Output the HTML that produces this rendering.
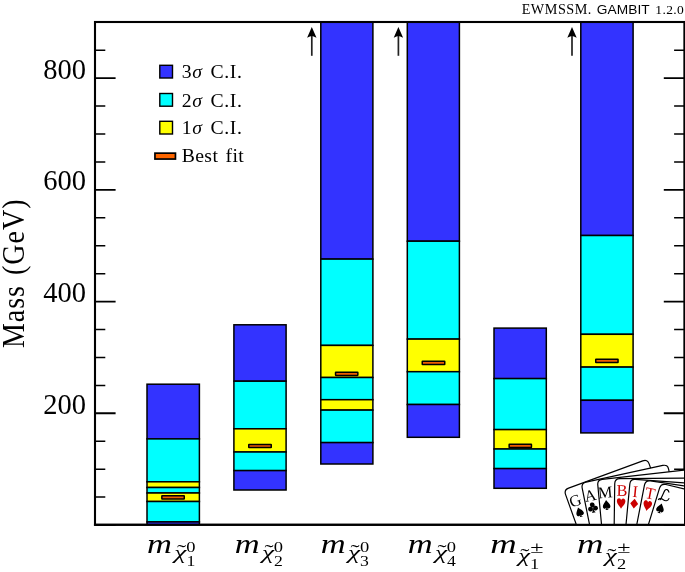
<!DOCTYPE html>
<html><head><meta charset="utf-8"><title>EWMSSM mass plot</title>
<style>
html,body{margin:0;padding:0;background:#fff;}
body{width:685px;height:572px;overflow:hidden;}
svg{display:block;will-change:transform;}
text{font-family:"Liberation Serif",serif;fill:#000;}
.sans{font-family:"Liberation Sans",sans-serif;}
.it{font-style:italic;}
</style></head><body>
<svg width="685" height="572" viewBox="0 0 685 572">
<rect x="0" y="0" width="685" height="572" fill="#fff"/>
<defs><clipPath id="plot"><rect x="95.00" y="22.00" width="589.40" height="502.80"/></clipPath></defs>
<g clip-path="url(#plot)">
<rect x="147.00" y="384.20" width="52.40" height="54.70" fill="#3333ff" stroke="#000" stroke-width="1.50"/>
<rect x="147.00" y="438.90" width="52.40" height="42.90" fill="#00ffff" stroke="#000" stroke-width="1.50"/>
<rect x="147.00" y="481.80" width="52.40" height="5.70" fill="#ffff00" stroke="#000" stroke-width="1.50"/>
<rect x="147.00" y="487.50" width="52.40" height="5.50" fill="#00ffff" stroke="#000" stroke-width="1.50"/>
<rect x="147.00" y="493.00" width="52.40" height="8.50" fill="#ffff00" stroke="#000" stroke-width="1.50"/>
<rect x="147.00" y="501.50" width="52.40" height="20.40" fill="#00ffff" stroke="#000" stroke-width="1.50"/>
<rect x="147.00" y="521.90" width="52.40" height="4.10" fill="#3333ff" stroke="#000" stroke-width="1.50"/>
<rect x="161.85" y="495.80" width="22.40" height="3.20" rx="0.3" fill="#ee5e00" stroke="#000" stroke-width="1.5"/>
<rect x="233.90" y="324.80" width="52.20" height="56.40" fill="#3333ff" stroke="#000" stroke-width="1.50"/>
<rect x="233.90" y="381.20" width="52.20" height="47.60" fill="#00ffff" stroke="#000" stroke-width="1.50"/>
<rect x="233.90" y="428.80" width="52.20" height="23.20" fill="#ffff00" stroke="#000" stroke-width="1.50"/>
<rect x="233.90" y="452.00" width="52.20" height="18.60" fill="#00ffff" stroke="#000" stroke-width="1.50"/>
<rect x="233.90" y="470.60" width="52.20" height="19.40" fill="#3333ff" stroke="#000" stroke-width="1.50"/>
<rect x="248.75" y="444.40" width="22.50" height="3.20" rx="0.3" fill="#ee5e00" stroke="#000" stroke-width="1.5"/>
<rect x="320.80" y="10.00" width="52.10" height="249.10" fill="#3333ff" stroke="#000" stroke-width="1.50"/>
<rect x="320.80" y="259.10" width="52.10" height="86.30" fill="#00ffff" stroke="#000" stroke-width="1.50"/>
<rect x="320.80" y="345.40" width="52.10" height="32.10" fill="#ffff00" stroke="#000" stroke-width="1.50"/>
<rect x="320.80" y="377.50" width="52.10" height="22.20" fill="#00ffff" stroke="#000" stroke-width="1.50"/>
<rect x="320.80" y="399.70" width="52.10" height="10.40" fill="#ffff00" stroke="#000" stroke-width="1.50"/>
<rect x="320.80" y="410.10" width="52.10" height="32.50" fill="#00ffff" stroke="#000" stroke-width="1.50"/>
<rect x="320.80" y="442.60" width="52.10" height="21.40" fill="#3333ff" stroke="#000" stroke-width="1.50"/>
<rect x="335.55" y="372.20" width="22.30" height="3.20" rx="0.3" fill="#ee5e00" stroke="#000" stroke-width="1.5"/>
<rect x="407.30" y="10.00" width="52.10" height="231.20" fill="#3333ff" stroke="#000" stroke-width="1.50"/>
<rect x="407.30" y="241.20" width="52.10" height="97.90" fill="#00ffff" stroke="#000" stroke-width="1.50"/>
<rect x="407.30" y="339.10" width="52.10" height="32.60" fill="#ffff00" stroke="#000" stroke-width="1.50"/>
<rect x="407.30" y="371.70" width="52.10" height="32.80" fill="#00ffff" stroke="#000" stroke-width="1.50"/>
<rect x="407.30" y="404.50" width="52.10" height="32.80" fill="#3333ff" stroke="#000" stroke-width="1.50"/>
<rect x="422.25" y="361.30" width="22.50" height="3.20" rx="0.3" fill="#ee5e00" stroke="#000" stroke-width="1.5"/>
<rect x="494.00" y="328.10" width="52.30" height="50.50" fill="#3333ff" stroke="#000" stroke-width="1.50"/>
<rect x="494.00" y="378.60" width="52.30" height="51.00" fill="#00ffff" stroke="#000" stroke-width="1.50"/>
<rect x="494.00" y="429.60" width="52.30" height="19.40" fill="#ffff00" stroke="#000" stroke-width="1.50"/>
<rect x="494.00" y="449.00" width="52.30" height="19.60" fill="#00ffff" stroke="#000" stroke-width="1.50"/>
<rect x="494.00" y="468.60" width="52.30" height="19.70" fill="#3333ff" stroke="#000" stroke-width="1.50"/>
<rect x="509.15" y="444.30" width="22.30" height="3.20" rx="0.3" fill="#ee5e00" stroke="#000" stroke-width="1.5"/>
<rect x="580.80" y="10.00" width="52.30" height="225.50" fill="#3333ff" stroke="#000" stroke-width="1.50"/>
<rect x="580.80" y="235.50" width="52.30" height="98.80" fill="#00ffff" stroke="#000" stroke-width="1.50"/>
<rect x="580.80" y="334.30" width="52.30" height="32.80" fill="#ffff00" stroke="#000" stroke-width="1.50"/>
<rect x="580.80" y="367.10" width="52.30" height="33.20" fill="#00ffff" stroke="#000" stroke-width="1.50"/>
<rect x="580.80" y="400.30" width="52.30" height="32.60" fill="#3333ff" stroke="#000" stroke-width="1.50"/>
<rect x="595.75" y="359.30" width="22.30" height="3.20" rx="0.3" fill="#ee5e00" stroke="#000" stroke-width="1.5"/>
</g>
<path d="M311.80 55.80 L311.80 34.00" stroke="#222" stroke-width="1.7" fill="none"/>
<path d="M311.80 27.00 L316.50 37.80 Q313.30 36.00 311.80 36.00 Q310.30 36.00 307.10 37.80 Z" fill="#000"/>
<path d="M398.40 55.80 L398.40 34.00" stroke="#222" stroke-width="1.7" fill="none"/>
<path d="M398.40 27.00 L403.10 37.80 Q399.90 36.00 398.40 36.00 Q396.90 36.00 393.70 37.80 Z" fill="#000"/>
<path d="M572.00 55.80 L572.00 34.00" stroke="#222" stroke-width="1.7" fill="none"/>
<path d="M572.00 27.00 L576.70 37.80 Q573.50 36.00 572.00 36.00 Q570.50 36.00 567.30 37.80 Z" fill="#000"/>
<path d="M95.00 525.05 h20.60 M684.40 525.05 h-20.60" stroke="#000" stroke-width="1.90" fill="none"/>
<path d="M95.00 497.12 h10.30 M684.40 497.12 h-10.30" stroke="#000" stroke-width="1.50" fill="none"/>
<path d="M95.00 469.18 h10.30 M684.40 469.18 h-10.30" stroke="#000" stroke-width="1.50" fill="none"/>
<path d="M95.00 441.25 h10.30 M684.40 441.25 h-10.30" stroke="#000" stroke-width="1.50" fill="none"/>
<path d="M95.00 413.32 h20.60 M684.40 413.32 h-20.60" stroke="#000" stroke-width="1.90" fill="none"/>
<path d="M95.00 385.38 h10.30 M684.40 385.38 h-10.30" stroke="#000" stroke-width="1.50" fill="none"/>
<path d="M95.00 357.45 h10.30 M684.40 357.45 h-10.30" stroke="#000" stroke-width="1.50" fill="none"/>
<path d="M95.00 329.52 h10.30 M684.40 329.52 h-10.30" stroke="#000" stroke-width="1.50" fill="none"/>
<path d="M95.00 301.58 h20.60 M684.40 301.58 h-20.60" stroke="#000" stroke-width="1.90" fill="none"/>
<path d="M95.00 273.65 h10.30 M684.40 273.65 h-10.30" stroke="#000" stroke-width="1.50" fill="none"/>
<path d="M95.00 245.72 h10.30 M684.40 245.72 h-10.30" stroke="#000" stroke-width="1.50" fill="none"/>
<path d="M95.00 217.78 h10.30 M684.40 217.78 h-10.30" stroke="#000" stroke-width="1.50" fill="none"/>
<path d="M95.00 189.85 h20.60 M684.40 189.85 h-20.60" stroke="#000" stroke-width="1.90" fill="none"/>
<path d="M95.00 161.92 h10.30 M684.40 161.92 h-10.30" stroke="#000" stroke-width="1.50" fill="none"/>
<path d="M95.00 133.98 h10.30 M684.40 133.98 h-10.30" stroke="#000" stroke-width="1.50" fill="none"/>
<path d="M95.00 106.05 h10.30 M684.40 106.05 h-10.30" stroke="#000" stroke-width="1.50" fill="none"/>
<path d="M95.00 78.12 h20.60 M684.40 78.12 h-20.60" stroke="#000" stroke-width="1.90" fill="none"/>
<path d="M95.00 50.18 h10.30 M684.40 50.18 h-10.30" stroke="#000" stroke-width="1.50" fill="none"/>
<path d="M95.00 22.25 h10.30 M684.40 22.25 h-10.30" stroke="#000" stroke-width="1.50" fill="none"/>
<rect x="95.00" y="22.00" width="589.40" height="502.80" fill="none" stroke="#000" stroke-width="2.10"/>
<defs><clipPath id="logoclip"><rect x="95.00" y="22.00" width="589.00" height="502.80"/></clipPath></defs>
<g clip-path="url(#logoclip)">
<path d="M565.59 494.61 Q563.90 489.90 568.59 488.18 L642.75 460.93 Q647.44 459.21 649.13 463.91 L672.72 529.82 L589.18 560.51 Z" fill="#fff" stroke="#000" stroke-width="1.2" stroke-linejoin="round"/>
<text transform="translate(575.20 500.60) rotate(-19.70)" x="0" y="5.38" font-size="16.3" text-anchor="middle" style="fill:#000">G</text>
<g transform="translate(579.60 512.00) rotate(-19.70) scale(0.97)"><path d="M0,-5 C0.8,-3.2 3.9,-0.8 3.9,1.6 C3.9,3.2 2.8,3.9 2.0,3.9 C1.3,3.9 0.7,3.5 0.4,2.8 C0.5,3.9 1,4.7 1.8,5.2 L-1.8,5.2 C-1,4.7 -0.5,3.9 -0.4,2.8 C-0.7,3.5 -1.3,3.9 -2.0,3.9 C-2.8,3.9 -3.9,3.2 -3.9,1.6 C-3.9,-0.8 -0.8,-3.2 0,-5 Z" fill="#000"/></g>
<path d="M582.19 488.10 Q581.20 483.20 586.09 482.14 L662.79 465.43 Q667.67 464.36 668.66 469.26 L682.50 537.88 L596.02 556.72 Z" fill="#fff" stroke="#000" stroke-width="1.2" stroke-linejoin="round"/>
<text transform="translate(590.20 495.60) rotate(-11.40)" x="0" y="5.38" font-size="16.3" text-anchor="middle" style="fill:#000">A</text>
<g transform="translate(592.80 507.40) rotate(-11.40) scale(1.04)"><g fill="#000"><circle cx="0" cy="-2.5" r="2.3"/><circle cx="-2.5" cy="1.2" r="2.3"/><circle cx="2.5" cy="1.2" r="2.3"/><path d="M-0.5,0 L0.5,0 C0.5,3 1,4.4 1.9,5.2 L-1.9,5.2 C-1,4.4 -0.5,3 -0.5,0 Z"/></g></g>
<path d="M597.77 484.88 Q597.30 479.90 602.27 479.34 L711.59 467.13 Q716.56 466.57 717.03 471.55 L723.62 541.24 L604.36 554.57 Z" fill="#fff" stroke="#000" stroke-width="1.2" stroke-linejoin="round"/>
<text transform="translate(605.20 492.40) rotate(-5.40)" x="0" y="5.38" font-size="16.3" text-anchor="middle" style="fill:#000">M</text>
<g transform="translate(606.50 504.80) rotate(-5.40) scale(0.97)"><path d="M0,-5 C0.8,-3.2 3.9,-0.8 3.9,1.6 C3.9,3.2 2.8,3.9 2.0,3.9 C1.3,3.9 0.7,3.5 0.4,2.8 C0.5,3.9 1,4.7 1.8,5.2 L-1.8,5.2 C-1,4.7 -0.5,3.9 -0.4,2.8 C-0.7,3.5 -1.3,3.9 -2.0,3.9 C-2.8,3.9 -3.9,3.2 -3.9,1.6 C-3.9,-0.8 -0.8,-3.2 0,-5 Z" fill="#000"/></g>
<path d="M614.73 483.70 Q614.80 478.70 619.80 478.66 L729.80 477.69 Q734.80 477.65 734.73 482.65 L733.80 552.64 L613.81 553.69 Z" fill="#fff" stroke="#000" stroke-width="1.2" stroke-linejoin="round"/>
<text transform="translate(622.00 490.40) rotate(0.76)" x="0" y="5.38" font-size="16.3" text-anchor="middle" style="fill:#cc0000">B</text>
<g transform="translate(621.10 503.30) rotate(0.76) scale(0.97)"><path d="M0,5.6 C-0.8,3.5 -4.4,0.8 -4.4,-2.3 C-4.4,-4.3 -3.1,-5.1 -2.1,-5.1 C-1.1,-5.1 -0.2,-4.3 0,-3.2 C0.2,-4.3 1.1,-5.1 2.1,-5.1 C3.1,-5.1 4.4,-4.3 4.4,-2.3 C4.4,0.8 0.8,3.5 0,5.6 Z" fill="#cc0000"/></g>
<path d="M629.83 483.98 Q630.30 479.00 635.29 479.36 L745.00 487.32 Q749.99 487.68 749.52 492.66 L742.93 562.35 L623.24 553.67 Z" fill="#fff" stroke="#000" stroke-width="1.2" stroke-linejoin="round"/>
<text transform="translate(635.20 491.70) rotate(5.40)" x="0" y="5.38" font-size="16.3" text-anchor="middle" style="fill:#cc0000">I</text>
<g transform="translate(634.20 503.70) rotate(5.40) scale(0.97)"><path d="M0,-5 L4.1,0 L0,5 L-4.1,0 Z" fill="#cc0000"/></g>
<path d="M644.45 485.11 Q645.40 480.20 650.35 480.93 L759.17 496.98 Q764.12 497.71 763.16 502.61 L749.81 571.33 L631.09 553.82 Z" fill="#fff" stroke="#000" stroke-width="1.2" stroke-linejoin="round"/>
<text transform="translate(650.10 493.40) rotate(11.00)" x="0" y="5.38" font-size="16.3" text-anchor="middle" style="fill:#cc0000">T</text>
<g transform="translate(647.40 505.60) rotate(11.00) scale(0.97)"><path d="M0,5.6 C-0.8,3.5 -4.4,0.8 -4.4,-2.3 C-4.4,-4.3 -3.1,-5.1 -2.1,-5.1 C-1.1,-5.1 -0.2,-4.3 0,-3.2 C0.2,-4.3 1.1,-5.1 2.1,-5.1 C3.1,-5.1 4.4,-4.3 4.4,-2.3 C4.4,0.8 0.8,3.5 0,5.6 Z" fill="#cc0000"/></g>
<path d="M659.54 488.18 Q661.00 483.40 665.87 484.54 L772.95 509.71 Q777.82 510.85 776.36 515.64 L755.89 582.58 L639.07 555.12 Z" fill="#fff" stroke="#000" stroke-width="1.2" stroke-linejoin="round"/>
<path d="M668.91 492.09 C668.36 489.36 666.00 488.64 664.73 490.64 C663.45 492.82 662.27 496.45 660.18 499.73" fill="none" stroke="#000" stroke-width="1.15" stroke-linecap="round"/>
<path d="M658.45 499.55 C659.27 498.09 661.45 498.45 663.27 499.73 C665.09 501.18 667.82 501.36 668.91 498.64" fill="none" stroke="#000" stroke-width="1.15" stroke-linecap="round"/>
<g transform="translate(660.40 508.20) rotate(17.00) scale(0.97)"><path d="M0,-5 C0.8,-3.2 3.9,-0.8 3.9,1.6 C3.9,3.2 2.8,3.9 2.0,3.9 C1.3,3.9 0.7,3.5 0.4,2.8 C0.5,3.9 1,4.7 1.8,5.2 L-1.8,5.2 C-1,4.7 -0.5,3.9 -0.4,2.8 C-0.7,3.5 -1.3,3.9 -2.0,3.9 C-2.8,3.9 -3.9,3.2 -3.9,1.6 C-3.9,-0.8 -0.8,-3.2 0,-5 Z" fill="#000"/></g>
</g>
<path d="M93.95 524.80 H685.45" stroke="#000" stroke-width="2.10" fill="none"/>
<text x="86" y="413.87" font-size="28.5" text-anchor="end">200</text>
<text x="86" y="302.13" font-size="28.5" text-anchor="end">400</text>
<text x="86" y="190.40" font-size="28.5" text-anchor="end">600</text>
<text x="86" y="78.67" font-size="28.5" text-anchor="end">800</text>
<text transform="translate(23.9 273.3) rotate(-90) scale(1 1.12)" font-size="28" text-anchor="middle" letter-spacing="1.0" word-spacing="2">Mass (GeV)</text>
<text x="521.7" y="13.7" font-size="14.2" textLength="69.6" lengthAdjust="spacing">EWMSSM.</text>
<text x="596.7" y="13.7" font-size="13.7" class="sans" textLength="53.0" lengthAdjust="spacing">GAMBIT</text>
<text x="655.3" y="13.7" font-size="13.5" textLength="28.4" lengthAdjust="spacing">1.2.0</text>
<rect x="159.8" y="65.30" width="12.7" height="12.7" fill="#3333ff" stroke="#000" stroke-width="1.4"/>
<text x="181.8" y="78.30" font-size="19.7" word-spacing="2.5" letter-spacing="0.6">3<tspan class="it">σ</tspan> C.I.</text>
<rect x="159.8" y="93.50" width="12.7" height="12.7" fill="#00ffff" stroke="#000" stroke-width="1.4"/>
<text x="181.8" y="106.50" font-size="19.7" word-spacing="2.5" letter-spacing="0.6">2<tspan class="it">σ</tspan> C.I.</text>
<rect x="159.8" y="121.30" width="12.7" height="12.7" fill="#ffff00" stroke="#000" stroke-width="1.4"/>
<text x="181.8" y="134.00" font-size="19.7" word-spacing="2.5" letter-spacing="0.6">1<tspan class="it">σ</tspan> C.I.</text>
<rect x="154.95" y="153.15" width="20.5" height="5.9" fill="#ff6600" stroke="#000" stroke-width="1.7"/>
<text x="181.8" y="161.7" font-size="19.7" word-spacing="2.0" letter-spacing="0.35">Best fit</text>
<text transform="translate(147.10 552.60) scale(1.280 1.000)" font-size="27.00" class="it">m</text>
<text transform="translate(174.30 558.70) scale(1.500 1.000)" font-size="18.40" class="it">χ</text>
<text transform="translate(176.90 558.30) scale(1.400 1.000)" font-size="19.60">˜</text>
<text transform="translate(186.20 551.90) scale(1.360 1.000)" font-size="13.60">0</text>
<text transform="translate(186.40 566.00) scale(1.300 1.000)" font-size="13.60">1</text>
<text transform="translate(234.70 552.60) scale(1.280 1.000)" font-size="27.00" class="it">m</text>
<text transform="translate(261.90 558.70) scale(1.500 1.000)" font-size="18.40" class="it">χ</text>
<text transform="translate(264.50 558.30) scale(1.400 1.000)" font-size="19.60">˜</text>
<text transform="translate(273.80 551.90) scale(1.360 1.000)" font-size="13.60">0</text>
<text transform="translate(274.00 566.00) scale(1.300 1.000)" font-size="13.60">2</text>
<text transform="translate(320.80 552.60) scale(1.280 1.000)" font-size="27.00" class="it">m</text>
<text transform="translate(348.00 558.70) scale(1.500 1.000)" font-size="18.40" class="it">χ</text>
<text transform="translate(350.60 558.30) scale(1.400 1.000)" font-size="19.60">˜</text>
<text transform="translate(359.90 551.90) scale(1.360 1.000)" font-size="13.60">0</text>
<text transform="translate(360.10 566.00) scale(1.300 1.000)" font-size="13.60">3</text>
<text transform="translate(407.70 552.60) scale(1.280 1.000)" font-size="27.00" class="it">m</text>
<text transform="translate(434.90 558.70) scale(1.500 1.000)" font-size="18.40" class="it">χ</text>
<text transform="translate(437.50 558.30) scale(1.400 1.000)" font-size="19.60">˜</text>
<text transform="translate(446.80 551.90) scale(1.360 1.000)" font-size="13.60">0</text>
<text transform="translate(447.00 566.00) scale(1.300 1.000)" font-size="13.60">4</text>
<text transform="translate(490.20 552.60) scale(1.360 1.000)" font-size="27.00" class="it">m</text>
<text transform="translate(518.20 561.80) scale(1.460 1.000)" font-size="18.40" class="it">χ</text>
<text transform="translate(520.30 562.40) scale(1.400 1.000)" font-size="19.60">˜</text>
<text transform="translate(530.30 552.90) scale(1.420 1.000)" font-size="17.00">±</text>
<text transform="translate(530.00 568.50) scale(1.300 1.000)" font-size="14.20">1</text>
<text transform="translate(577.10 552.60) scale(1.360 1.000)" font-size="27.00" class="it">m</text>
<text transform="translate(605.10 561.80) scale(1.460 1.000)" font-size="18.40" class="it">χ</text>
<text transform="translate(607.20 562.40) scale(1.400 1.000)" font-size="19.60">˜</text>
<text transform="translate(617.20 552.90) scale(1.420 1.000)" font-size="17.00">±</text>
<text transform="translate(616.90 568.50) scale(1.300 1.000)" font-size="14.20">2</text>
</svg></body></html>
